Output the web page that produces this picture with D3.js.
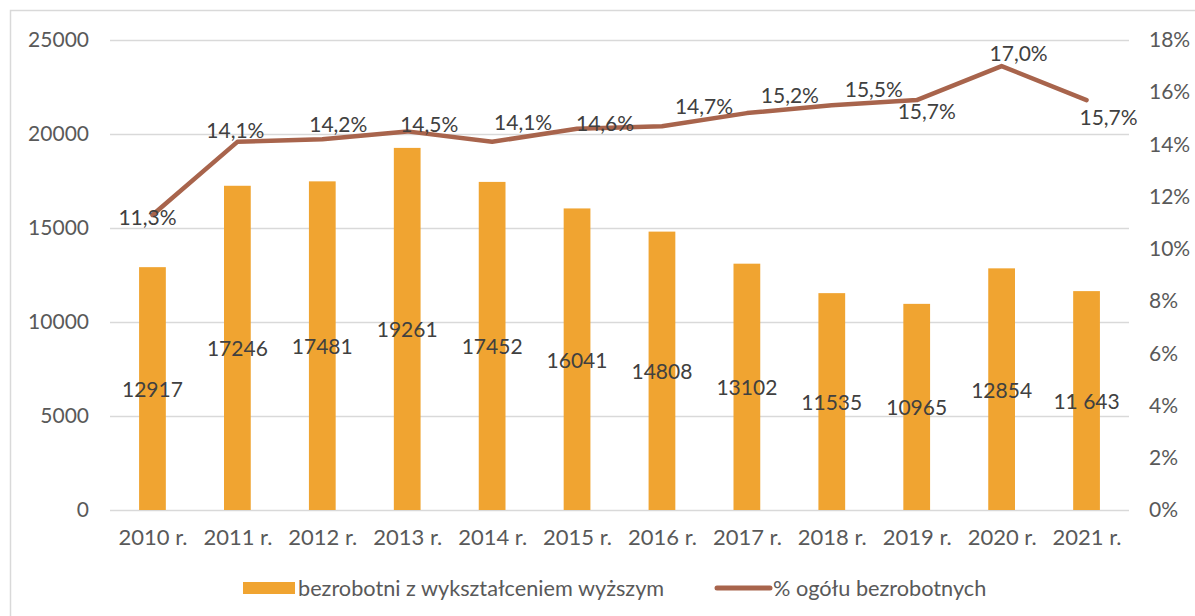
<!DOCTYPE html>
<html>
<head>
<meta charset="utf-8">
<script src="https://cdn.jsdelivr.net/npm/d3@7"></script>
<style>
  html, body { margin: 0; padding: 0; background: #ffffff; }
  svg { display: block; font-family: Lato, "Noto Sans", sans-serif; }
</style>
</head>
<body>
<svg id="chart" width="1195" height="616"></svg>
<script>
// ---- data ----
const years = ["2010 r.", "2011 r.", "2012 r.", "2013 r.", "2014 r.", "2015 r.", "2016 r.", "2017 r.", "2018 r.", "2019 r.", "2020 r.", "2021 r."];
const unemployedHigherEdu = [12917, 17246, 17481, 19261, 17452, 16041, 14808, 13102, 11535, 10965, 12854, 11643];
const unemployedHigherEduLabels = ["12917", "17246", "17481", "19261", "17452", "16041", "14808", "13102", "11535", "10965", "12854", "11 643"];
const shareOfUnemployed = [11.3, 14.1, 14.2, 14.5, 14.1, 14.6, 14.7, 15.2, 15.5, 15.7, 17.0, 15.7];
const leftTicks = [0, 5000, 10000, 15000, 20000, 25000];
const rightTicks = [0, 2, 4, 6, 8, 10, 12, 14, 16, 18];
const seriesNames = ["bezrobotni z wykształceniem wyższym", "% ogółu bezrobotnych"];

// label placement offsets for line labels (layout only)
const lineLabelOffsets = [[-5, 2], [-2, -12], [16, -16], [22, -8], [31, -20], [28, -6], [42, -21], [43, -19], [42, -17], [10, 10], [17, -14], [22, 16]];

// ---- layout ----
const W = 1195, H = 616;
const plot = { left: 110, right: 1129, top: 40, bottom: 510 };
const barColor = "#F0A431";
const lineColor = "#A8644C";
const gridColor = "#D9D9D9";
const tickColor = "#595959";
const labelColor = "#404040";
const yTickSize = 21, xTickSize = 22, dataLabelSize = 21, legendSize = 21.7;

const svg = d3.select("#chart");

// outer border
svg.append("rect")
  .attr("x", 10.5).attr("y", 10.5)
  .attr("width", W + 20).attr("height", H + 20)
  .attr("fill", "none").attr("stroke", "#D9D9D9").attr("stroke-width", 1.5);

const x = d3.scaleBand().domain(years).range([plot.left, plot.right]).paddingInner(0.685).paddingOuter(0.3425);
const xc = d3.scalePoint().domain(years).range([plot.left, plot.right]).padding(0.5);
const yL = d3.scaleLinear().domain([0, 25000]).range([plot.bottom, plot.top]);
const yR = d3.scaleLinear().domain([0, 18]).range([plot.bottom, plot.top]);

// gridlines
svg.append("g").selectAll("line").data(leftTicks).join("line")
  .attr("x1", plot.left).attr("x2", plot.right)
  .attr("y1", d => Math.round(yL(d)) + 0.5).attr("y2", d => Math.round(yL(d)) + 0.5)
  .attr("stroke", gridColor).attr("stroke-width", 1.5);

// left axis
const axL = svg.append("g").attr("transform", `translate(${plot.left},0)`)
  .call(d3.axisLeft(yL).tickValues(leftTicks).tickFormat(d3.format("d")).tickSize(0).tickPadding(21));
axL.select(".domain").remove();
axL.selectAll("text").attr("fill", tickColor).style("font-size", yTickSize + "px").style("font-family", "Lato");

// right axis
const axR = svg.append("g").attr("transform", `translate(${plot.right},0)`)
  .call(d3.axisRight(yR).tickValues(rightTicks).tickFormat(d => d + "%").tickSize(0).tickPadding(20));
axR.select(".domain").remove();
axR.selectAll("text").attr("fill", tickColor).style("font-size", yTickSize + "px").style("font-family", "Lato");

// bottom axis
const axB = svg.append("g").attr("transform", `translate(0,${plot.bottom})`)
  .call(d3.axisBottom(xc).tickSize(0).tickPadding(19));
axB.select(".domain").remove();
axB.selectAll("text").attr("fill", tickColor).style("font-size", xTickSize + "px").style("font-family", "Lato");

// bars
svg.append("g").selectAll("rect").data(unemployedHigherEdu).join("rect")
  .attr("x", (d, i) => x(years[i]))
  .attr("width", x.bandwidth())
  .attr("y", d => yL(d))
  .attr("height", d => yL(0) - yL(d))
  .attr("fill", barColor);

// bar labels (centered)
svg.append("g").selectAll("text").data(unemployedHigherEdu).join("text")
  .attr("x", (d, i) => xc(years[i]))
  .attr("y", d => (yL(d) + yL(0)) / 2)
  .attr("text-anchor", "middle").attr("dominant-baseline", "central")
  .attr("fill", labelColor).style("font-size", dataLabelSize + "px")
  .text((d, i) => unemployedHigherEduLabels[i]);

// line
const line = d3.line().x((d, i) => xc(years[i])).y(d => yR(d));
svg.append("path").datum(shareOfUnemployed)
  .attr("d", line).attr("fill", "none")
  .attr("stroke", lineColor).attr("stroke-width", 4.5)
  .attr("stroke-linejoin", "round").attr("stroke-linecap", "round");

// line labels
const fmtPct = v => d3.format(".1f")(v).replace(".", ",") + "%";
svg.append("g").selectAll("text").data(shareOfUnemployed).join("text")
  .attr("x", (d, i) => xc(years[i]) + lineLabelOffsets[i][0])
  .attr("y", (d, i) => yR(d) + lineLabelOffsets[i][1])
  .attr("text-anchor", "middle").attr("dominant-baseline", "central")
  .attr("fill", labelColor).style("font-size", dataLabelSize + "px")
  .text(d => fmtPct(d));

// legend
const lg = svg.append("g");
lg.append("rect").attr("x", 243).attr("y", 582).attr("width", 52).attr("height", 12).attr("fill", barColor);
lg.append("text").attr("x", 298).attr("y", 588).attr("dominant-baseline", "central")
  .attr("fill", tickColor).style("font-size", legendSize + "px").text(seriesNames[0]);
lg.append("line").attr("x1", 717).attr("x2", 770).attr("y1", 588).attr("y2", 588)
  .attr("stroke", lineColor).attr("stroke-width", 5).attr("stroke-linecap", "round");
lg.append("text").attr("x", 773).attr("y", 588).attr("dominant-baseline", "central")
  .attr("fill", tickColor).style("font-size", legendSize + "px").text(seriesNames[1]);
</script>
</body>
</html>
